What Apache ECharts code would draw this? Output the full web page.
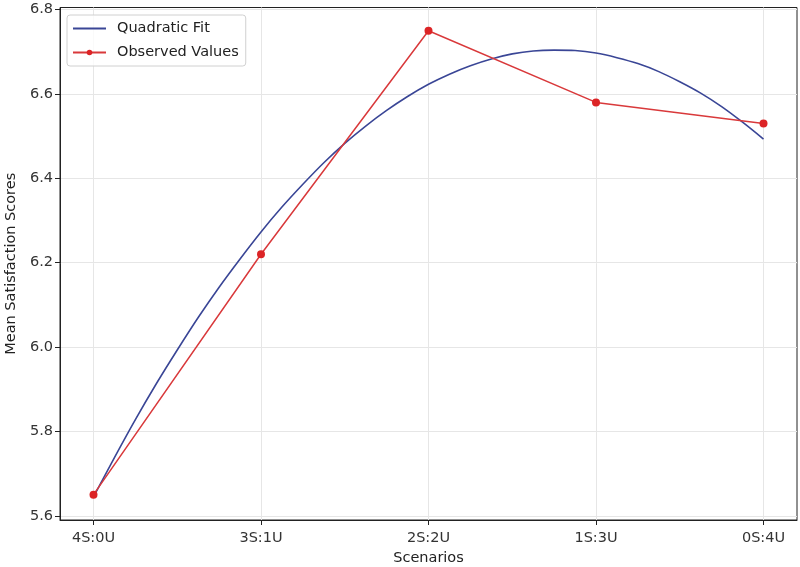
<!DOCTYPE html>
<html>
<head>
<meta charset="utf-8">
<script src="https://cdn.jsdelivr.net/npm/echarts@6/dist/echarts.min.js"></script>
<style>
  html, body { margin: 0; padding: 0; background: #fff; }
  #chart { width: 800px; height: 567px; }
</style>
</head>
<body>
<div id="chart"></div>
<script>
const scenarios = ['4S:0U', '3S:1U', '2S:2U', '1S:3U', '0S:4U'];
const observed = [5.65, 6.22, 6.75, 6.58, 6.53];

// quadratic fit curve at eighth steps
const fitX = [0, 0.125, 0.25, 0.375, 0.5, 0.625, 0.75, 0.875, 1, 1.125, 1.25, 1.375, 1.5, 1.625, 1.75, 1.875,
              2, 2.125, 2.25, 2.375, 2.5, 2.625, 2.75, 2.875, 3, 3.125, 3.25, 3.375, 3.5, 3.625, 3.75, 3.875, 4];
const fitY = [5.645, 5.738, 5.828, 5.913, 5.993, 6.070, 6.142, 6.209, 6.273, 6.332, 6.386, 6.437, 6.483, 6.524, 6.561, 6.594,
              6.623, 6.647, 6.667, 6.683, 6.695, 6.702, 6.704, 6.703, 6.697, 6.686, 6.672, 6.653, 6.629, 6.602, 6.570, 6.533, 6.493];

const yTicks = [5.6, 5.8, 6.0, 6.2, 6.4, 6.6, 6.8];
const xTicks = [0, 1, 2, 3, 4];

const font = 'DejaVu Sans';
let myChart = echarts.init(document.getElementById('chart'));

myChart.setOption({
    animation: false,
    textStyle: { fontFamily: font },
    grid: {
        left: 60, right: 3, top: 7.5, bottom: 47,
        outerBoundsMode: 'none',
        containLabel: false,
        show: true, borderColor: '#222', borderWidth: 1
    },
    legend: {
        orient: 'vertical',
        left: 67, top: 15,
        padding: [6, 7, 6, 5],
        itemGap: 9,
        itemWidth: 33,
        itemHeight: 7,
        backgroundColor: 'rgba(255,255,255,0.8)',
        borderColor: '#d0d0d0',
        borderWidth: 1,
        borderRadius: 3,
        textStyle: { fontFamily: font, fontSize: 14.5, color: '#222', padding: [0, 0, 0, 6] },
        data: [
            { name: 'Quadratic Fit', itemStyle: { opacity: 0 } },
            { name: 'Observed Values' }
        ]
    },
    xAxis: {
        type: 'value',
        min: -0.2, max: 4.2,
        name: 'Scenarios',
        nameLocation: 'middle',
        nameGap: 31,
        nameTextStyle: { fontFamily: font, fontSize: 14.5, color: '#222' },
        axisLine: { onZero: false, lineStyle: { color: '#222' } },
        axisTick: { customValues: xTicks, length: 5, lineStyle: { color: '#222' } },
        axisLabel: {
            customValues: xTicks,
            fontFamily: font, fontSize: 14.5, color: '#333', margin: 11,
            formatter: v => scenarios[Math.round(v)]
        },
        splitLine: { show: true, lineStyle: { color: '#e6e6e6', width: 1 } }
    },
    yAxis: {
        type: 'value',
        min: 5.59, max: 6.805,
        name: 'Mean Satisfaction Scores',
        nameLocation: 'middle',
        nameGap: 41,
        nameTextStyle: { fontFamily: font, fontSize: 14.5, color: '#222' },
        axisLine: { show: true, onZero: false, lineStyle: { color: '#222' } },
        axisTick: { show: true, customValues: yTicks, length: 5, lineStyle: { color: '#222' } },
        axisLabel: {
            customValues: yTicks,
            fontFamily: font, fontSize: 14.5, color: '#333', margin: 7,
            formatter: v => v.toFixed(1)
        },
        splitLine: { show: true, lineStyle: { color: '#e6e6e6', width: 1 } }
    },
    series: [
        {
            name: 'Quadratic Fit',
            type: 'line',
            smooth: 0.3,
            symbol: 'none',
            data: fitX.map((x, i) => [x, fitY[i]]),
            lineStyle: { color: '#3a4696', width: 1.6 },
            itemStyle: { color: '#3a4696' },
            z: 2
        },
        {
            name: 'Observed Values',
            type: 'line',
            symbol: 'circle',
            symbolSize: 8,
            data: observed.map((v, i) => [i, v]),
            lineStyle: { color: '#d9393b', width: 1.5 },
            itemStyle: { color: '#dc2426' },
            z: 3
        }
    ]
});
</script>
</body>
</html>
